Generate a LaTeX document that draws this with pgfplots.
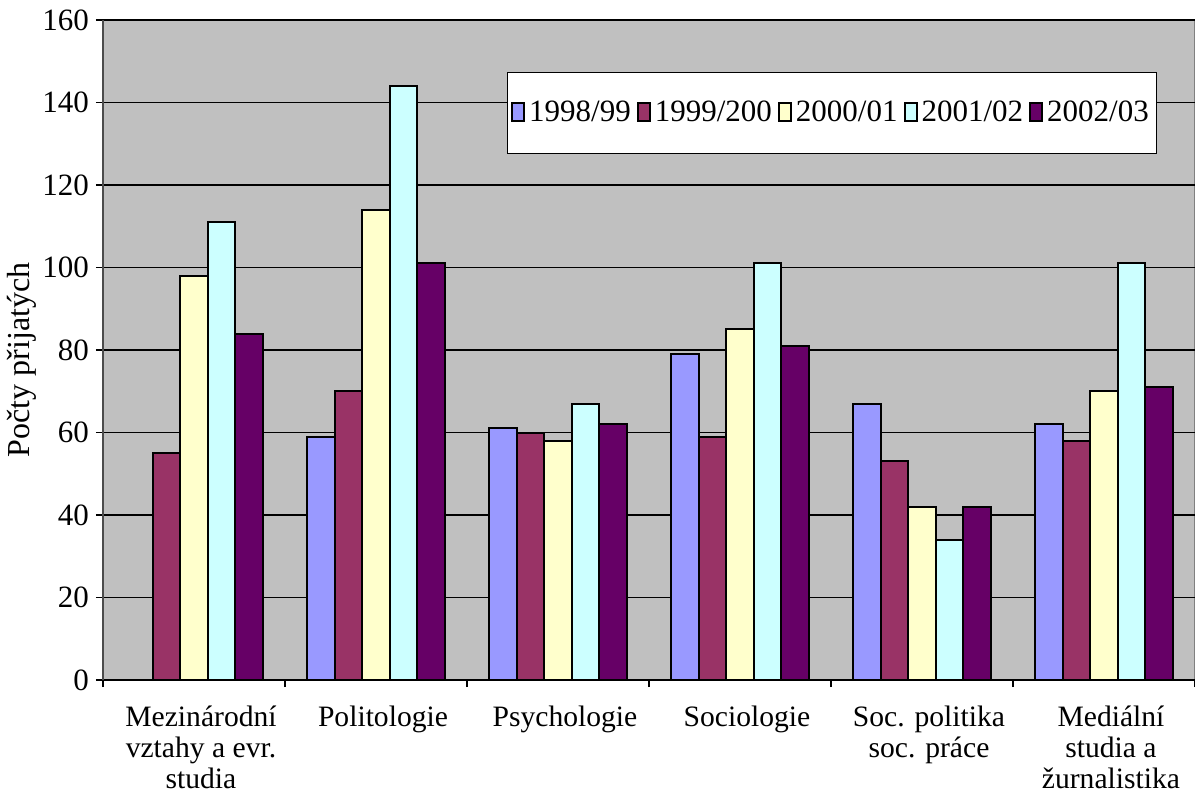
\documentclass[border=0pt]{standalone}
\usepackage{fontspec}
\setmainfont{Liberation Serif}
\usepackage{pgfplots}
\pgfplotsset{compat=1.18}
\definecolor{cA}{HTML}{9999FF}
\definecolor{cB}{HTML}{993366}
\definecolor{cC}{HTML}{FFFFCC}
\definecolor{cD}{HTML}{CCFFFF}
\definecolor{cE}{HTML}{660066}
\definecolor{plotbg}{HTML}{C0C0C0}
\definecolor{bord}{HTML}{808080}
\newcommand{\lf}{\fontsize{14.8}{15.5}\selectfont}
\newcommand{\tf}{\fontsize{15.5}{16}\selectfont}
\newcommand{\yf}{\fontsize{16}{17}\selectfont}
\newcommand{\gf}{\fontsize{15.5}{16}\selectfont}
\begin{document}
\begin{tikzpicture}
\begin{axis}[
  scale only axis,
  width=546pt, height=330pt,
  ymin=0, ymax=160, ytick={0,20,...,160},
  xmin=-0.5, xmax=5.5,
  xtick={0,1,2,3,4,5},
  xticklabels={Mezinárodní\\vztahy a evr.\\studia, Politologie, Psychologie, Sociologie, Soc. politika\\soc. práce, Mediální\\studia a\\žurnalistika},
  minor xtick={-0.5,0.5,1.5,2.5,3.5,4.5,5.5},
  xticklabel style={align=center, anchor=north, font=\lf, yshift=-6pt, xshift=3.5pt},
  yticklabel style={font=\tf},
  /pgf/number format/assume math mode=true,
  tick align=outside,
  major tick length=3.5pt, minor tick length=3.5pt,
  major x tick style={draw=none},
  minor x tick style={black, line width=0.6pt},
  major y tick style={black, line width=0.6pt},
  axis x line*=bottom, axis y line*=left,
  x axis line style={black, line width=0.8pt, -},
  y axis line style={black!70, line width=1.2pt, -},
  axis background/.style={fill=plotbg, draw=bord, line width=1.2pt},
  ymajorgrids, grid style={black, line width=0.6pt},
  ylabel={Počty přijatých},
  every axis y label/.style={at={(rel axis cs:-0.0742,0.485)}, rotate=90, anchor=center, font=\yf},
  ybar, bar width=0.151,
  every axis plot/.append style={draw=black, line width=1pt},
  legend columns=5,
  legend style={at={(0.6676,0.859)}, anchor=center, draw=black, line width=0.6pt, fill=white,
    font=\gf, inner xsep=2pt, inner ysep=12.5pt,
    /tikz/every even column/.append style={column sep=1pt}},
  legend image code/.code={\draw[#1, line width=1pt] (0pt,-4pt) rectangle (6pt,5pt);},
]
\addplot[fill=cA, bar shift=-0.302] coordinates {(1,59) (2,61) (3,79) (4,67) (5,62)};
\addplot[fill=cB, bar shift=-0.151] coordinates {(0,55) (1,70) (2,60) (3,59) (4,53) (5,58)};
\addplot[fill=cC, bar shift=0] coordinates {(0,98) (1,114) (2,58) (3,85) (4,42) (5,70)};
\addplot[fill=cD, bar shift=0.151] coordinates {(0,111) (1,144) (2,67) (3,101) (4,34) (5,101)};
\addplot[fill=cE, bar shift=0.302] coordinates {(0,84) (1,101) (2,62) (3,81) (4,42) (5,71)};
\legend{1998/99, 1999/200, 2000/01, 2001/02, 2002/03}
\end{axis}
\pgfresetboundingbox
\path[use as bounding box] (-51.5pt,-59.5pt) rectangle (546pt,340pt);
\end{tikzpicture}
\end{document}
